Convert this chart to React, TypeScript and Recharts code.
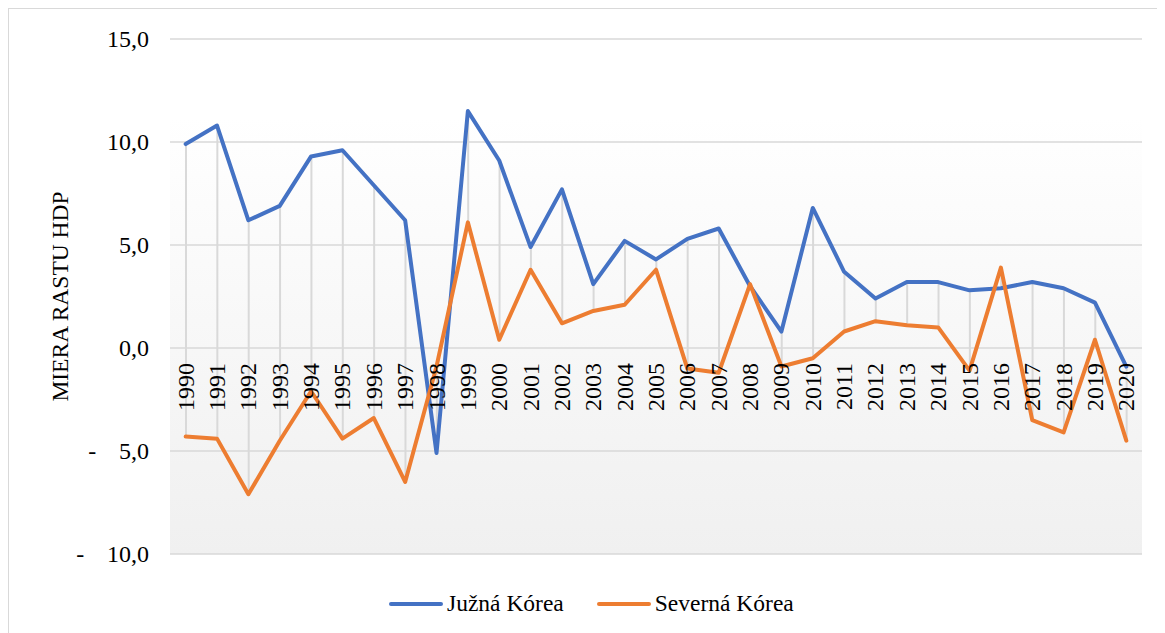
import { ComposedChart, Line, Bar, XAxis, YAxis, CartesianGrid, Legend } from 'recharts';

// --- Data ---
const years = [
  '1990', '1991', '1992', '1993', '1994', '1995', '1996', '1997', '1998', '1999',
  '2000', '2001', '2002', '2003', '2004', '2005', '2006', '2007', '2008', '2009',
  '2010', '2011', '2012', '2013', '2014', '2015', '2016', '2017', '2018', '2019', '2020',
];
const southKorea = [
  9.9, 10.8, 6.2, 6.9, 9.3, 9.6, 7.9, 6.2, -5.1, 11.5,
  9.1, 4.9, 7.7, 3.1, 5.2, 4.3, 5.3, 5.8, 3.0, 0.8,
  6.8, 3.7, 2.4, 3.2, 3.2, 2.8, 2.9, 3.2, 2.9, 2.2, -0.9,
];
const northKorea = [
  -4.3, -4.4, -7.1, -4.5, -2.1, -4.4, -3.4, -6.5, -0.9, 6.1,
  0.4, 3.8, 1.2, 1.8, 2.1, 3.8, -1.0, -1.2, 3.1, -0.9,
  -0.5, 0.8, 1.3, 1.1, 1.0, -1.1, 3.9, -3.5, -4.1, 0.4, -4.5,
];
const yTicks = [-10, -5, 0, 5, 10, 15];

const SERIES = [
  { key: 'south', name: 'Južná Kórea', color: '#4472C4' },
  { key: 'north', name: 'Severná Kórea', color: '#ED7D31' },
];

const chartData = years.map((year, i) => ({
  year,
  south: southKorea[i],
  north: northKorea[i],
  // high-low line between the two series
  hilo: [Math.min(southKorea[i], northKorea[i]), Math.max(southKorea[i], northKorea[i])],
}));

// --- Layout ---
const FONT = 'Liberation Serif';
const WIDTH = 1150;
const HEIGHT = 620;
const PLOT_TOP = 30;
const PLOT_LEFT = 161;
const PLOT_RIGHT = 1133;
const PLOT_BOTTOM = 545;
const Y_MIN = -10;
const Y_MAX = 15;

const formatY = (v: number) => Math.abs(v).toFixed(1).replace('.', ',');

const YTick = ({ x, y, payload }: any) => (
  <text x={x} y={y} dy={8} textAnchor="end" style={{ fontFamily: FONT }} fontSize={24} fill="#000">
    {payload.value < 0 ? `-\u00a0\u00a0\u00a0\u2009${formatY(payload.value)}` : formatY(payload.value)}
  </text>
);

const XTick = ({ x, payload }: any) => {
  // category axis crosses at 0
  const zeroY = PLOT_TOP + (Y_MAX / (Y_MAX - Y_MIN)) * (PLOT_BOTTOM - PLOT_TOP);
  return (
    <text
      transform={`translate(${x + 8}, ${zeroY + 15}) rotate(-90)`}
      textAnchor="end"
      style={{ fontFamily: FONT }}
      fontSize={24}
      fill="#000"
    >
      {payload.value}
    </text>
  );
};

const YLabel = ({ viewBox }: any) => {
  const cy = PLOT_TOP + (PLOT_BOTTOM - PLOT_TOP) / 2;
  return (
    <text
      transform={`translate(${(viewBox?.x ?? 0) + 59}, ${cy}) rotate(-90)`}
      textAnchor="middle"
      style={{ fontFamily: FONT }}
      fontSize={23.5}
      fill="#000"
    >
      MIERA RASTU HDP
    </text>
  );
};

const LegendContent = () => (
  <div style={{ display: 'flex', alignItems: 'center', fontFamily: FONT, fontSize: 23.5, color: '#000' }}>
    {SERIES.map((s, i) => (
      <div key={s.key} style={{ display: 'flex', alignItems: 'center', marginLeft: i === 0 ? 0 : 33 }}>
        <span style={{ display: 'inline-block', width: 54, height: 4, borderRadius: 2, background: s.color, marginRight: 4 }} />
        <span>{s.name}</span>
      </div>
    ))}
  </div>
);

export default function App() {
  return (
    <div style={{ position: 'relative', width: 1170, height: 640, border: '1px solid #d9d9d9', fontFamily: FONT }}>
      <svg width={0} height={0} style={{ position: 'absolute' }}>
        <defs>
          <linearGradient id="plotBg" x1="0" y1="0" x2="0" y2="1">
            <stop offset="0%" stopColor="#ffffff" />
            <stop offset="15%" stopColor="#ffffff" />
            <stop offset="100%" stopColor="#f0f0f0" />
          </linearGradient>
        </defs>
      </svg>
      <div style={{ position: 'absolute', left: 0, top: 0 }}>
        <ComposedChart
          width={WIDTH}
          height={HEIGHT}
          data={chartData}
          margin={{ top: PLOT_TOP, right: WIDTH - PLOT_RIGHT, bottom: HEIGHT - PLOT_BOTTOM - 1, left: 0 }}
        >
          <CartesianGrid
            vertical={false}
            stroke="#d9d9d9"
            strokeWidth={1.5}
            fill="url(#plotBg)"
            fillOpacity={1}
          />
          <XAxis
            dataKey="year"
            height={1}
            axisLine={false}
            tickLine={false}
            interval={0}
            tick={(props: any) => <XTick {...props} />}
          />
          <YAxis
            width={PLOT_LEFT}
            domain={[Y_MIN, Y_MAX]}
            ticks={yTicks}
            axisLine={false}
            tickLine={false}
            tickSize={0}
            tickMargin={21}
            tick={(props: any) => <YTick {...props} />}
            label={<YLabel />}
          />
          <Bar dataKey="hilo" barSize={2} fill="#d9d9d9" isAnimationActive={false} legendType="none" />
          {SERIES.map((s) => (
            <Line
              key={s.key}
              type="linear"
              dataKey={s.key}
              name={s.name}
              stroke={s.color}
              strokeWidth={4}
              strokeLinecap="round"
              strokeLinejoin="round"
              dot={false}
              activeDot={false}
              isAnimationActive={false}
            />
          ))}
          <Legend
            layout="horizontal"
            verticalAlign="middle"
            align="center"
            content={<LegendContent />}
            wrapperStyle={{ left: 380, top: 581, width: 'auto', height: 30 }}
          />
        </ComposedChart>
      </div>
    </div>
  );
}
